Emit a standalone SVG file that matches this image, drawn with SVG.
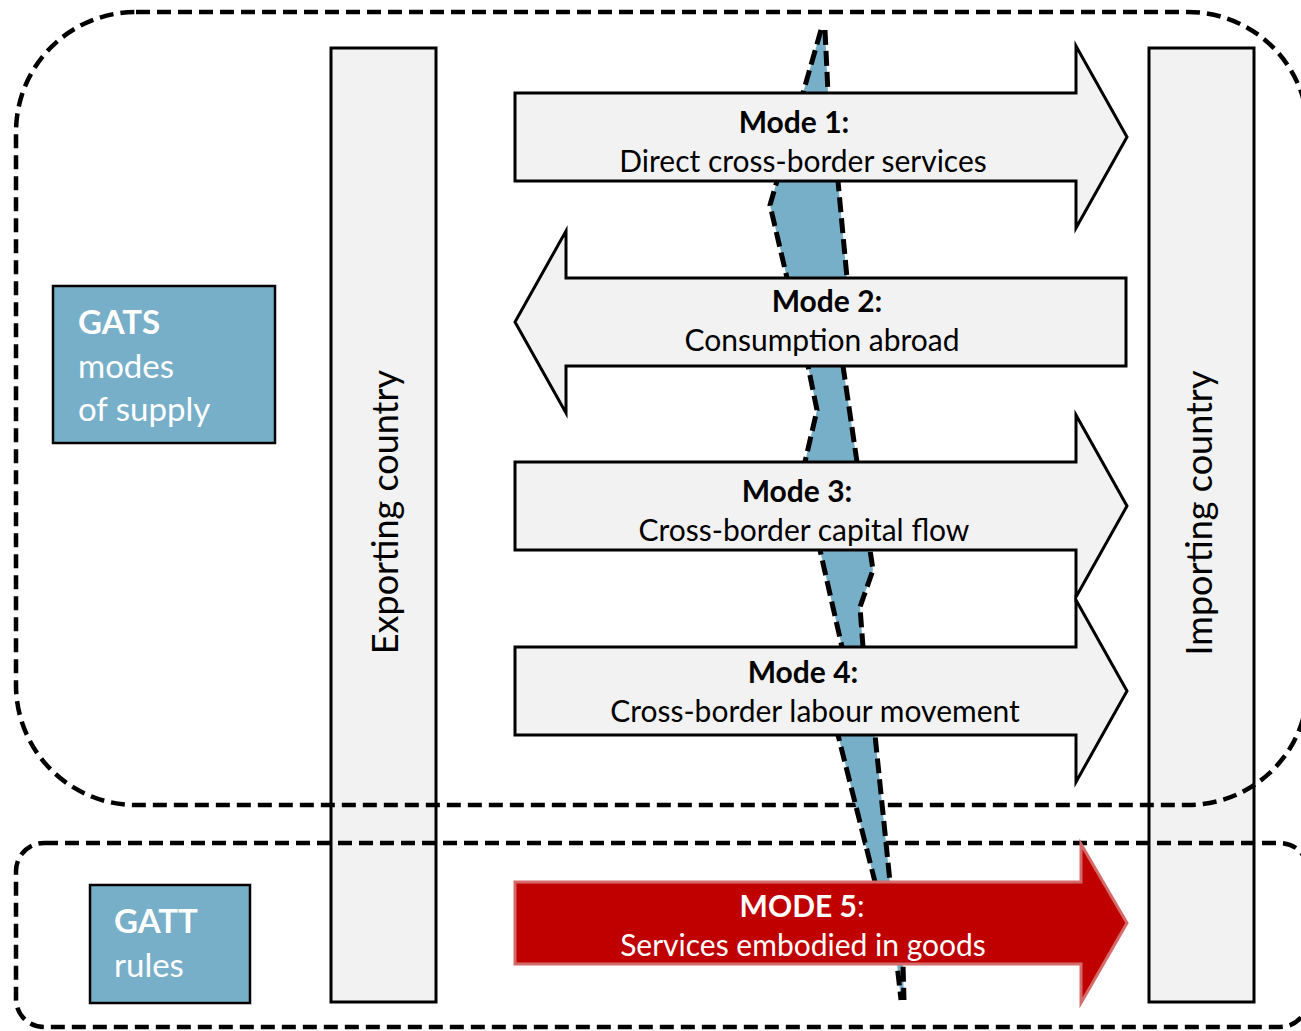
<svg xmlns="http://www.w3.org/2000/svg" width="1301" height="1031" viewBox="0 0 1301 1031">
<style>
.dash{fill:none;stroke:#000;stroke-width:4.5;stroke-dasharray:14 7}
.edge{fill:none;stroke:#000;stroke-width:5;stroke-dasharray:15 6}
.country{fill:#f2f2f2;stroke:#000;stroke-width:3}
.arrow{fill:#f2f2f2;stroke:#000;stroke-width:3;stroke-linejoin:miter}
.blue{fill:#77afc9;stroke:#000;stroke-width:2.5}
.t{font-family:Lato,"Liberation Sans",sans-serif;font-size:30px;fill:#000;text-anchor:middle}
.b{font-weight:bold}
.w{fill:#fff}
.lab{font-family:Lato,"Liberation Sans",sans-serif;font-size:33px;fill:#fff}
.vt{font-family:Lato,"Liberation Sans",sans-serif;font-size:36px;fill:#000;text-anchor:middle}
</style>
<rect width="1301" height="1031" fill="#fff"/>
<g id="exporting">
<rect class="country" x="331" y="48" width="105" height="954"/>
<text class="vt" transform="translate(398,512) rotate(-90)">Exporting country</text>
</g>
<g id="importing">
<rect class="country" x="1149" y="48" width="105" height="954"/>
<text class="vt" transform="translate(1212,513) rotate(-90)">Importing country</text>
</g>
<g id="gats-region">
<rect class="dash" x="16" y="12" width="1292" height="793" rx="120" ry="120"/>
</g>
<g id="gatt-region">
<rect class="dash" x="16" y="843" width="1292" height="184" rx="28" ry="28"/>
</g>
<g id="border">
<polygon fill="#77afc9" points="821,30 803,93 777,181 770,205 787,278 808,366 817,410 805,462 820,550 842,647 838,735 875,882 897,964 901,1000 904,1000 903,964 890,882 875,735 863,647 860,607 873,570 870,550 857,462 843,366 847,278 838,181 828,93 825,30"/>
<polyline class="edge" points="821,30 803,93 777,181 770,205 787,278 808,366 817,410 805,462 820,550 842,647 838,735 875,882 897,964 901,1000"/>
<polyline class="edge" points="825,30 828,93 838,181 847,278 843,366 857,462 870,550 873,570 860,607 863,647 875,735 890,882 903,964 904,1000"/>
</g>
<g id="connectors">
<g id="mode1">
<path class="arrow" d="M515,93 H1076 V46 L1127,137 L1076,228 V181 H515 Z"/>
<text class="t b" x="794" y="133">Mode 1:</text>
<text class="t" x="803" y="172">Direct cross-border services</text>
</g>
<g id="mode2">
<path class="arrow" d="M1126,278 H566 V231 L515,322 L566,413 V366 H1126 Z"/>
<text class="t b" x="827" y="312">Mode 2:</text>
<text class="t" x="822" y="351">Consumption abroad</text>
</g>
<g id="mode3">
<path class="arrow" d="M515,462 H1076 V415 L1127,506 L1076,597 V550 H515 Z"/>
<text class="t b" x="797" y="502">Mode 3:</text>
<text class="t" x="804" y="541">Cross-border capital flow</text>
</g>
<g id="mode4">
<path class="arrow" d="M515,647 H1076 V600 L1127,691 L1076,782 V735 H515 Z"/>
<text class="t b" x="803" y="683">Mode 4:</text>
<text class="t" x="815" y="722">Cross-border labour movement</text>
</g>
<g id="mode5">
<path d="M515,882 H1081 V844 L1127,923 L1081,1003 V964 H515 Z" fill="#c00000" stroke="#d46a6a" stroke-width="3"/>
<text class="t w" x="802" y="917"><tspan class="b">MODE 5</tspan>:</text>
<text class="t w" x="803" y="956">Services embodied in goods</text>
</g>
</g>
<g id="gats">
<rect class="blue" x="53" y="286" width="222" height="157"/>
<text class="lab b" x="78" y="334">GATS</text>
<text class="lab" x="78" y="378">modes</text>
<text class="lab" x="78" y="421">of supply</text>
</g>
<g id="gatt">
<rect class="blue" x="90" y="885" width="160" height="118"/>
<text class="lab b" x="114" y="933">GATT</text>
<text class="lab" x="114" y="977">rules</text>
</g>
</svg>
